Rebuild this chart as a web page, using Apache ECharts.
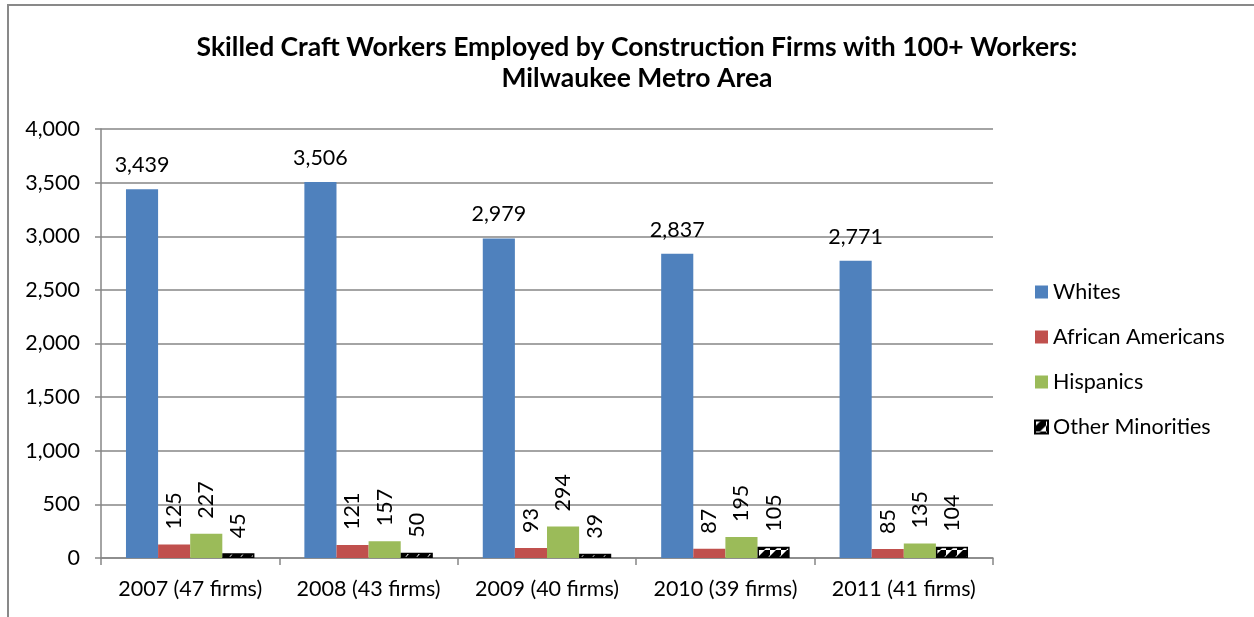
<!DOCTYPE html>
<html>
<head>
<meta charset="utf-8">
<script src="https://cdn.jsdelivr.net/npm/echarts@6/dist/echarts.min.js"></script>
<style>
html,body{margin:0;padding:0;background:#fff;}
#chart{width:1254px;height:617px;}
</style>
</head>
<body>
<div id="chart"></div>
<script>
const categories = ['2007 (47 firms)', '2008 (43 firms)', '2009 (40 firms)', '2010 (39 firms)', '2011 (41 firms)'];
const whites = [3439, 3506, 2979, 2837, 2771];
const africanAmericans = [125, 121, 93, 87, 85];
const hispanics = [227, 157, 294, 195, 135];
const otherMinorities = [45, 50, 39, 105, 104];

const FONT = 'Lato, "Open Sans", sans-serif';
const FS = 21.5;
const fmt = v => Number(v).toLocaleString('en-US');

// hatch pattern for "Other Minorities"
const pc = document.createElement('canvas');
pc.width = 11; pc.height = 11;
const px = pc.getContext('2d');
px.fillStyle = '#fff'; px.fillRect(0, 0, 11, 11);
px.fillStyle = '#000';
px.beginPath();
px.moveTo(0, 11); px.lineTo(5, 11); px.lineTo(11, 5); px.lineTo(11, 0); px.lineTo(6, 0); px.lineTo(0, 6); px.closePath();
px.fill();
const pattern = { image: pc, repeat: 'repeat' };

const chart = echarts.init(document.getElementById('chart'), null, { renderer: 'canvas' });

const rotLabel = {
  show: true, position: 'top', rotate: 90, align: 'left', verticalAlign: 'middle',
  distance: 15, fontSize: FS, color: '#000', fontFamily: FONT, formatter: p => fmt(p.value)
};

chart.setOption({
  animation: false,
  textStyle: { fontFamily: FONT },
  graphic: [{
    type: 'rect', shape: { x: 8, y: 5, width: 1400, height: 800 },
    style: { fill: 'none', stroke: '#898989', lineWidth: 2 }, silent: true
  }],
  title: {
    text: 'Skilled Craft Workers Employed by Construction Firms with 100+ Workers:\nMilwaukee Metro Area',
    left: 632, top: 27, textAlign: 'center',
    textStyle: { fontFamily: FONT, fontSize: 26.5, fontWeight: 'bold', color: '#000', lineHeight: 31 }
  },
  legend: {
    orient: 'vertical', left: 1029, top: 276, itemWidth: 13, itemHeight: 13, itemGap: 23,
    icon: 'rect',
    textStyle: { fontSize: FS, color: '#000', fontFamily: FONT },
    data: ['Whites', 'African Americans', 'Hispanics', 'Other Minorities']
  },
  grid: { left: 101, right: 261, top: 129, bottom: 59, containLabel: false },
  xAxis: {
    type: 'category', data: categories,
    axisLine: { lineStyle: { color: '#868686', width: 1.5 } },
    axisTick: { show: true, alignWithLabel: false, length: 7, lineStyle: { color: '#868686', width: 1.5 } },
    axisLabel: { fontSize: FS, color: '#000', margin: 20, fontFamily: FONT, interval: 0, hideOverlap: false }
  },
  yAxis: {
    type: 'value', min: 0, max: 4000, interval: 500,
    axisLine: { show: true, lineStyle: { color: '#868686', width: 1.5 } },
    axisTick: { show: true, length: 6, lineStyle: { color: '#868686', width: 1.5 } },
    splitLine: { lineStyle: { color: '#868686', width: 1.5 } },
    axisLabel: { fontSize: FS, color: '#000', margin: 21, fontFamily: FONT, formatter: fmt }
  },
  series: [
    {
      name: 'Whites', type: 'bar', data: whites, barGap: '0%', barCategoryGap: '28%',
      itemStyle: { color: '#4F81BD' },
      label: { show: true, position: 'top', distance: 13, fontSize: FS, color: '#000', fontFamily: FONT, formatter: p => fmt(p.value) }
    },
    { name: 'African Americans', type: 'bar', data: africanAmericans, itemStyle: { color: '#C0504D' }, label: rotLabel },
    { name: 'Hispanics', type: 'bar', data: hispanics, itemStyle: { color: '#9BBB59' }, label: rotLabel },
    { name: 'Other Minorities', type: 'bar', data: otherMinorities, itemStyle: { color: pattern, borderColor: '#000', borderWidth: 1.5 }, label: rotLabel }
  ]
});
</script>
</body>
</html>
